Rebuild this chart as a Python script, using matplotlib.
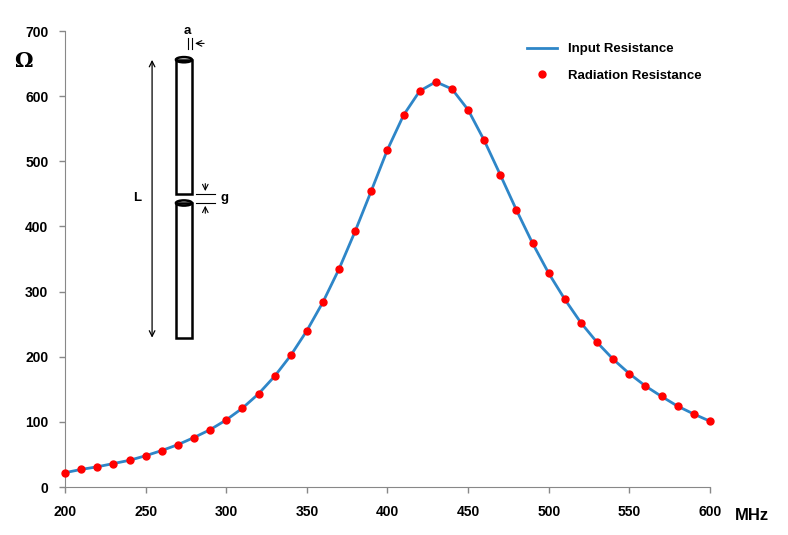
import matplotlib.pyplot as plt
from matplotlib.patches import Rectangle, Ellipse

freq = list(range(200, 601, 10))
input_res = [22, 27, 31, 36, 41, 48, 56, 65, 76, 88, 103, 121, 143, 170, 202, 240,
             284, 335, 393, 455, 518, 571, 608, 622, 611, 579, 532, 479, 425, 374,
             328, 288, 252, 222, 196, 174, 155, 139, 124, 112, 101]
rad_res = input_res

plt.rcParams['font.family'] = ['Liberation Sans', 'DejaVu Sans']
plt.rcParams['font.weight'] = 'bold'

fig = plt.figure(figsize=(7.88, 5.35), dpi=100)
ax = fig.add_axes([0.0825, 0.0897, 0.8185, 0.8523])

ax.plot(freq, input_res, color='#2e86c8', lw=2, label='Input Resistance',
        solid_joinstyle='round', clip_on=False)
ax.plot(freq, rad_res, 'o', color='#ff0000', ms=5, ls='none',
        label='Radiation Resistance', clip_on=False, zorder=4)

ax.set_xlim(200, 600)
ax.set_ylim(0, 700)
ax.set_xticks(range(200, 601, 50))
ax.set_yticks(range(0, 701, 100))
ax.tick_params(length=4, width=1, color='#888888', labelsize=10)
ax.tick_params(axis='x', pad=9)
ax.tick_params(axis='y', pad=8)
for s in ['top', 'right']:
    ax.spines[s].set_visible(False)
for s in ['left', 'bottom']:
    ax.spines[s].set_color('#888888')

ax.legend(loc='upper right', bbox_to_anchor=(1.005, 1.0), frameon=False,
          fontsize=9.5, handlelength=2.3, labelspacing=1.1)

fig.text(0.018, 0.875, 'Ω', fontsize=15, family='DejaVu Serif')
fig.text(0.932, 0.028, 'MHz', fontsize=12)

# dipole sketch
k = dict(fill=False, lw=1.8, color='black', zorder=5)
ax.add_patch(Rectangle((268.8, 450), 9.9, 206, **k))
ax.add_patch(Rectangle((268.8, 229), 9.9, 207, **k))
for yy in (656, 436):
    ax.add_patch(Ellipse((273.75, yy), 9.9, 8, **k))
ax.annotate('', xy=(254, 660), xytext=(254, 225),
            arrowprops=dict(arrowstyle='<->', lw=0.9, color='black'))
ax.text(245, 444, 'L', ha='center', va='center', fontsize=9.5)
ax.text(276, 700, 'a', ha='center', va='center', fontsize=9.5)
ax.plot([276.5, 276.5], [672, 690], color='black', lw=0.8)
ax.plot([278.7, 278.7], [672, 690], color='black', lw=0.8)
ax.annotate('', xy=(278.9, 681), xytext=(288, 681),
            arrowprops=dict(arrowstyle='->', lw=0.8, color='black'))
ax.plot([281, 293], [450, 450], color='black', lw=0.8)
ax.plot([281, 293], [436, 436], color='black', lw=0.8)
ax.annotate('', xy=(287, 450), xytext=(287, 470),
            arrowprops=dict(arrowstyle='->', lw=0.8, color='black'))
ax.annotate('', xy=(287, 436), xytext=(287, 416),
            arrowprops=dict(arrowstyle='->', lw=0.8, color='black'))
ax.text(299, 444, 'g', ha='center', va='center', fontsize=9.5)

fig.savefig('out.png', dpi=100)
